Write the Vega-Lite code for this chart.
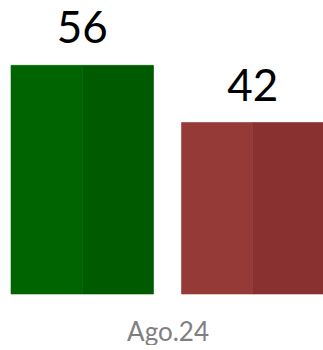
{
  "$schema": "https://vega.github.io/schema/vega-lite/v6.json",
  "width": 313,
  "height": 294,
  "padding": {"left": 10, "top": 0, "right": 0, "bottom": 0},
  "background": "white",
  "config": {"view": {"stroke": null}},
  "data": {
    "values": [
      {"mes": "Ago.24", "serie": "A", "mitad": "izq", "tono": "A-izq", "valor": 56},
      {"mes": "Ago.24", "serie": "A", "mitad": "der", "tono": "A-der", "valor": 56},
      {"mes": "Ago.24", "serie": "B", "mitad": "izq", "tono": "B-izq", "valor": 42},
      {"mes": "Ago.24", "serie": "B", "mitad": "der", "tono": "B-der", "valor": 42}
    ]
  },
  "encoding": {
    "x": {
      "field": "serie",
      "type": "nominal",
      "scale": {"paddingInner": 0.164, "paddingOuter": 0},
      "axis": {
        "labels": false,
        "ticks": false,
        "domain": false,
        "title": "Ago.24",
        "titleFont": "Lato",
        "titleFontSize": 26,
        "titleFontWeight": "normal",
        "titleColor": "#808080",
        "titlePadding": 25
      }
    },
    "y": {
      "field": "valor",
      "type": "quantitative",
      "scale": {"domain": [0, 72]},
      "axis": null
    }
  },
  "layer": [
    {
      "mark": {"type": "bar", "strokeWidth": 0.6},
      "encoding": {
        "xOffset": {"field": "mitad", "type": "nominal", "sort": ["izq", "der"], "scale": {"paddingInner": 0, "paddingOuter": 0}},
        "color": {
          "field": "tono",
          "type": "nominal",
          "scale": {"domain": ["A-izq", "A-der", "B-izq", "B-der"], "range": ["#006400", "#005a00", "#963a38", "#883130"]},
          "legend": null
        },
        "stroke": {
          "field": "tono",
          "type": "nominal",
          "scale": {"domain": ["A-izq", "A-der", "B-izq", "B-der"], "range": ["#006400", "#005a00", "#963a38", "#883130"]},
          "legend": null
        }
      }
    },
    {
      "transform": [{"filter": "datum.mitad == 'izq'"}],
      "mark": {"type": "text", "font": "Lato", "fontSize": 44, "color": "#000000", "baseline": "alphabetic", "dy": -22},
      "encoding": {
        "text": {"field": "valor", "type": "quantitative"}
      }
    }
  ]
}
